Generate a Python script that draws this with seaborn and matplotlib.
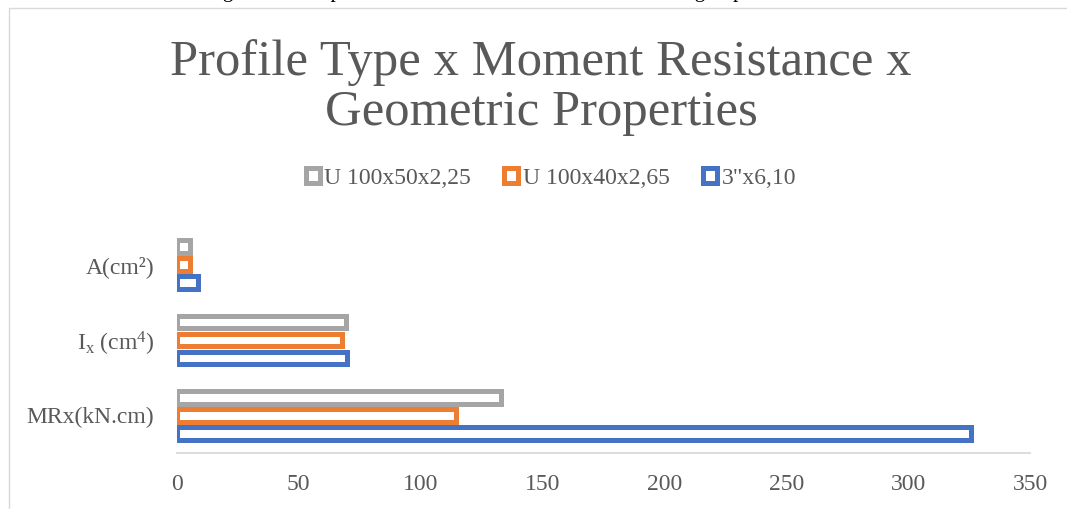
import numpy as np
import pandas as pd
import matplotlib
matplotlib.use("Agg")
import matplotlib.pyplot as plt
import matplotlib.patches as mpatches
import seaborn as sns

# data
categories = ["A(cm²)", "I$_\\mathrm{x}$ (cm$^\\mathrm{4}$)", "MRx(kN.cm)"]
profiles = ["U 100x50x2,25", "U 100x40x2,65", '3"x6,10']
u50_values = [5.3, 69.3, 133.0]
u40_values = [5.5, 67.7, 114.5]
in3_values = [8.6, 70.0, 326.0]
colors = ["#A5A5A5", "#ED7D31", "#4472C4"]
xticks = [0, 50, 100, 150, 200, 250, 300, 350]

df = pd.DataFrame({
    "prop": categories * 3,
    "profile": np.repeat(profiles, len(categories)),
    "value": u50_values + u40_values + in3_values,
})

sns.set_style("white")
plt.rcParams["font.family"] = ["Liberation Serif", "DejaVu Serif"]
plt.rcParams["mathtext.fontset"] = "custom"
plt.rcParams["mathtext.rm"] = "Liberation Serif"
plt.rcParams["mathtext.it"] = "Liberation Serif:italic"

text_col = "#595959"
W, H = 1067, 509
fig = plt.figure(figsize=(W / 100, H / 100), dpi=100)

# outer chart frame (partly cut off by the crop)
fig.patches.append(mpatches.Rectangle((9 / W, -0.1), 1.2, 1.1 - 8 / H, transform=fig.transFigure,
                                      fill=False, edgecolor="#D9D9D9", linewidth=1.0))

# caption above the chart, cropped in the reference: only its descenders show
fig.text(205 / W, 1 + 3 / H, "Figure 3: Comparison of the moment resistance according to profile.",
         ha="left", va="baseline", fontsize=15.5, color="black")

ax = fig.add_axes([176.7 / W, 56 / H, (1030 - 176.7) / W, (453.3 - 227.3) / H])
sns.barplot(data=df, y="prop", x="value", hue="profile", order=categories, hue_order=profiles,
            palette=colors, orient="h", width=0.717, gap=0.3, fill=False, linewidth=3.6,
            errorbar=None, legend=False, ax=ax)
for p in ax.patches:
    p.set_joinstyle("miter")

ax.set_xlim(0, 350)
ax.set_xticks(xticks)
ax.set_xlabel("")
ax.set_ylabel("")
ax.tick_params(axis="both", length=0, labelsize=17, colors=text_col)
ax.tick_params(axis="x", pad=15)
ax.tick_params(axis="y", pad=16)
for s in ["left", "top", "right"]:
    ax.spines[s].set_visible(False)
ax.spines["bottom"].set_color("#D9D9D9")
ax.spines["bottom"].set_linewidth(1.3)

fig.text(541 / W, 1 - 39 / H, "Profile Type x Moment Resistance x\nGeometric Properties",
         ha="center", va="top", fontsize=36.5, color=text_col, linespacing=1.1)

handles = [mpatches.Patch(facecolor="white", edgecolor=c, linewidth=3.6) for c in colors]
fig.legend(handles, profiles, loc="center", bbox_to_anchor=(551 / W, 1 - 178 / H), ncol=3,
           frameon=False, fontsize=17, labelcolor=text_col, handlelength=0.6, handleheight=0.6,
           handletextpad=0.2, columnspacing=1.4)

fig.savefig("out.png", dpi=100)
